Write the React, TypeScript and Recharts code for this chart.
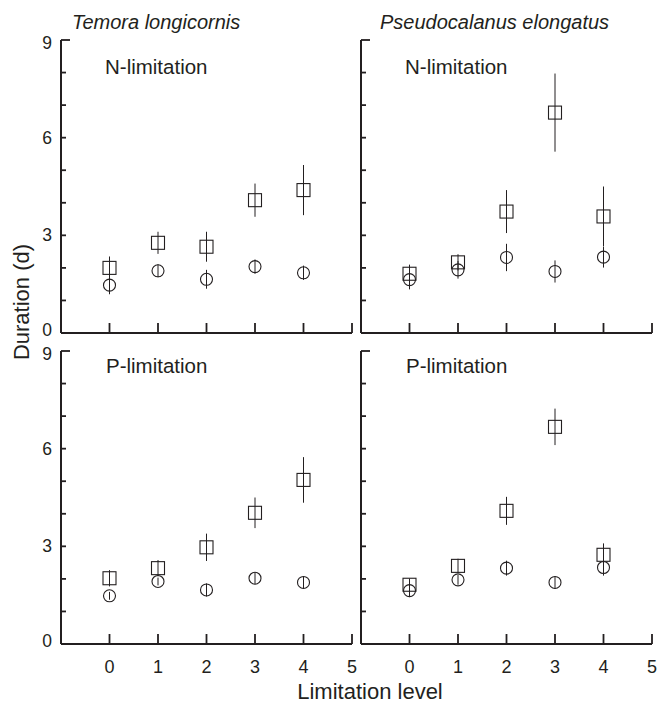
import { ScatterChart, Scatter, XAxis, YAxis, ErrorBar } from 'recharts';

// limitation levels on the x axis
const levels = [0, 1, 2, 3, 4];
const xTicks = [0, 1, 2, 3, 4, 5];
const yTicks = [0, 1, 2, 3, 4, 5, 6, 7, 8, 9];

// Temora longicornis, N-limitation
const temoraNSquare = [2.0, 2.77, 2.65, 4.08, 4.39];
const temoraNSquareErr = [0.35, 0.34, 0.46, 0.51, 0.77];
const temoraNCircle = [1.47, 1.91, 1.65, 2.04, 1.85];
const temoraNCircleErr = [0.28, 0.2, 0.29, 0.22, 0.22];

// Pseudocalanus elongatus, N-limitation
const pseudoNSquare = [1.82, 2.17, 3.73, 6.77, 3.58];
const pseudoNSquareErr = [0.28, 0.25, 0.66, 1.2, 0.92];
const pseudoNCircle = [1.64, 1.94, 2.32, 1.89, 2.33];
const pseudoNCircleErr = [0.3, 0.27, 0.42, 0.34, 0.32];

// Temora longicornis, P-limitation
const temoraPSquare = [2.02, 2.33, 2.97, 4.03, 5.04];
const temoraPSquareErr = [0.25, 0.25, 0.42, 0.47, 0.7];
const temoraPCircle = [1.48, 1.92, 1.66, 2.02, 1.89];
const temoraPCircleErr = [0.12, 0.12, 0.2, 0.18, 0.19];

// Pseudocalanus elongatus, P-limitation
const pseudoPSquare = [1.82, 2.4, 4.09, 6.67, 2.74];
const pseudoPSquareErr = [0.19, 0.22, 0.43, 0.56, 0.35];
const pseudoPCircle = [1.64, 1.97, 2.33, 1.89, 2.35];
const pseudoPCircleErr = [0.2, 0.15, 0.23, 0.19, 0.25];

const INK = '#231f20';
const FONT = '"Liberation Sans", Arial, Helvetica, sans-serif';
const PLOT_W = 291;
const PLOT_H = 293;
const Y_AXIS_W = 45;
const TICK_GAP = 10; // tickMargin; custom ticks use it to find the axis line

type Pt = { x: number; y: number; err: number };

function toPoints(vals: number[], errs: number[]): Pt[] {
  return levels.map((x, i) => ({ x, y: vals[i], err: errs[i] }));
}

// eslint-disable-next-line @typescript-eslint/no-explicit-any
const SquareMark = (props: any) => {
  const { cx, cy } = props;
  if (cx == null || cy == null) return <g />;
  return <rect x={cx - 6.5} y={cy - 6.5} width={13} height={13} fill="none" stroke={INK} strokeWidth={1.1} />;
};

// eslint-disable-next-line @typescript-eslint/no-explicit-any
const CircleMark = (props: any) => {
  const { cx, cy } = props;
  if (cx == null || cy == null) return <g />;
  return <circle cx={cx} cy={cy} r={6} fill="none" stroke={INK} strokeWidth={1.1} />;
};

// inward ticks: recharts draws them outward, so the tick mark is drawn here as a path
const makeXTick = (showLabel: boolean) => {
  // eslint-disable-next-line @typescript-eslint/no-explicit-any
  return (props: any) => {
    const { x, y, payload } = props;
    const axisY = Number(y) - TICK_GAP;
    const cx = Number(x);
    return (
      <g>
        <path d={`M${cx},${axisY}V${axisY - 10}`} style={{ stroke: INK, strokeWidth: 1.8, fill: 'none' }} />
        {showLabel && (
          <text x={cx} y={axisY + 29} textAnchor="middle" fontSize={18} fontFamily={FONT} fill={INK}>
            {payload.value}
          </text>
        )}
      </g>
    );
  };
};

const makeYTick = (showLabel: boolean) => {
  // eslint-disable-next-line @typescript-eslint/no-explicit-any
  return (props: any) => {
    const { x, y, payload } = props;
    const axisX = Number(x) + TICK_GAP;
    const cy = Number(y);
    const v = payload.value;
    const len = v === 9 ? 9 : 5;
    // end labels are nudged inward, as in the source figure
    const nudge = v === 9 ? 3 : v === 0 ? -3 : 0;
    return (
      <g>
        <path d={`M${axisX},${cy}H${axisX + len}`} style={{ stroke: INK, strokeWidth: 1.8, fill: 'none' }} />
        {showLabel && v % 3 === 0 && (
          <text x={axisX - 9} y={cy + 6 + nudge} textAnchor="end" fontSize={17.5} fontFamily={FONT} fill={INK}>
            {v}
          </text>
        )}
      </g>
    );
  };
};

interface PanelProps {
  left: number;
  top: number;
  squares: Pt[];
  circles: Pt[];
  showYLabels: boolean;
  showXLabels: boolean;
}

function Panel({ left, top, squares, circles, showYLabels, showXLabels }: PanelProps) {
  const xAxisH = showXLabels ? 40 : 12;
  const w = Y_AXIS_W + PLOT_W + 12;
  const h = 10 + PLOT_H + xAxisH;
  return (
    <div style={{ position: 'absolute', left: left - Y_AXIS_W, top: top - 10 }}>
      <ScatterChart width={w} height={h} margin={{ top: 10, right: 12, bottom: 0, left: 0 }}>
        <XAxis
          type="number"
          dataKey="x"
          domain={[-1, 5]}
          ticks={xTicks}
          allowDataOverflow
          height={xAxisH}
          axisLine={{ stroke: INK, strokeWidth: 2 }}
          tickLine={false}
          tickSize={0}
          tickMargin={TICK_GAP}
          tick={makeXTick(showXLabels)}
        />
        <YAxis
          type="number"
          dataKey="y"
          domain={[0, 9]}
          ticks={yTicks}
          allowDataOverflow
          width={Y_AXIS_W}
          axisLine={{ stroke: INK, strokeWidth: 2 }}
          tickLine={false}
          tickSize={0}
          tickMargin={TICK_GAP}
          tick={makeYTick(showYLabels)}
        />
        <Scatter data={squares} shape={SquareMark} isAnimationActive={false}>
          <ErrorBar dataKey="err" direction="y" width={0} stroke={INK} strokeWidth={1} />
        </Scatter>
        <Scatter data={circles} shape={CircleMark} isAnimationActive={false}>
          <ErrorBar dataKey="err" direction="y" width={0} stroke={INK} strokeWidth={1} />
        </Scatter>
      </ScatterChart>
    </div>
  );
}

export default function App() {
  const txt = { fontFamily: FONT, fill: INK } as const;
  return (
    <div style={{ position: 'absolute', left: 0, top: 0, width: 658, height: 704, background: '#fff' }}>
      <Panel left={61} top={40} squares={toPoints(temoraNSquare, temoraNSquareErr)}
        circles={toPoints(temoraNCircle, temoraNCircleErr)} showYLabels showXLabels={false} />
      <Panel left={361} top={40} squares={toPoints(pseudoNSquare, pseudoNSquareErr)}
        circles={toPoints(pseudoNCircle, pseudoNCircleErr)} showYLabels={false} showXLabels={false} />
      <Panel left={61} top={351} squares={toPoints(temoraPSquare, temoraPSquareErr)}
        circles={toPoints(temoraPCircle, temoraPCircleErr)} showYLabels showXLabels />
      <Panel left={361} top={351} squares={toPoints(pseudoPSquare, pseudoPSquareErr)}
        circles={toPoints(pseudoPCircle, pseudoPCircleErr)} showYLabels={false} showXLabels />
      <svg width={658} height={704} style={{ position: 'absolute', left: 0, top: 0, pointerEvents: 'none' }}>
        <text x={72} y={29} fontSize={20} fontStyle="italic" {...txt}>Temora longicornis</text>
        <text x={380} y={29} fontSize={20} fontStyle="italic" {...txt}>Pseudocalanus elongatus</text>
        <text x={105} y={74} fontSize={20.5} {...txt}>N-limitation</text>
        <text x={405} y={74} fontSize={20.5} {...txt}>N-limitation</text>
        <text x={106} y={373} fontSize={20.5} {...txt}>P-limitation</text>
        <text x={406} y={373} fontSize={20.5} {...txt}>P-limitation</text>
        <text x={29} y={302} fontSize={22} textAnchor="middle" transform="rotate(-90 29 302)" {...txt}>Duration (d)</text>
        <text x={370} y={699} fontSize={22} textAnchor="middle" {...txt}>Limitation level</text>
      </svg>
    </div>
  );
}
